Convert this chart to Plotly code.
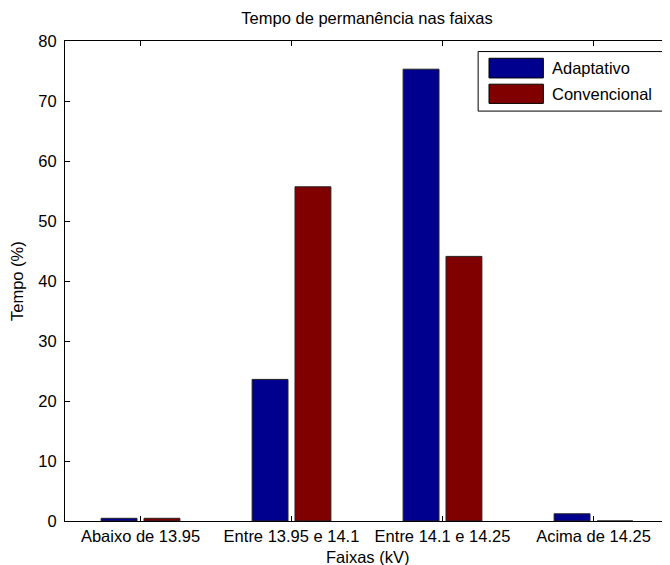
import plotly.graph_objects as go

categories = ["Abaixo de 13.95", "Entre 13.95 e 14.1", "Entre 14.1 e 14.25", "Acima de 14.25"]
adaptativo = [0.45, 23.6, 75.3, 1.2]
convencional = [0.45, 55.7, 44.1, 0.0]
series_names = ["Adaptativo", "Convencional"]
y_ticks = [0, 10, 20, 30, 40, 50, 60, 70, 80]

x_pos = list(range(1, len(categories) + 1))
BLUE = "#00008F"
RED = "#800000"
FONT = "Liberation Sans, Arial, sans-serif"
FS = 16.5

fig = go.Figure()
fig.add_trace(go.Bar(x=x_pos, y=adaptativo, name=series_names[0],
                     marker=dict(color=BLUE, line=dict(color="#222222", width=1)),
                     showlegend=False))
fig.add_trace(go.Bar(x=x_pos, y=convencional, name=series_names[1],
                     marker=dict(color=RED, line=dict(color="#222222", width=1)),
                     showlegend=False))

# custom MATLAB-style legend box
shapes = [
    dict(type="rect", xref="paper", yref="paper", x0=0.684, x1=0.992, y0=0.854, y1=0.978,
         line=dict(color="black", width=1), fillcolor="white", layer="above"),
    dict(type="rect", xref="paper", yref="paper", x0=0.702, x1=0.792, y0=0.923, y1=0.964,
         line=dict(color="black", width=1), fillcolor=BLUE, layer="above"),
    dict(type="rect", xref="paper", yref="paper", x0=0.702, x1=0.792, y0=0.870, y1=0.910,
         line=dict(color="black", width=1), fillcolor=RED, layer="above"),
]
annotations = [
    dict(text=series_names[0], xref="paper", yref="paper", x=0.803, y=0.9435,
         xanchor="left", yanchor="middle", showarrow=False,
         font=dict(family=FONT, size=FS, color="black")),
    dict(text=series_names[1], xref="paper", yref="paper", x=0.803, y=0.890,
         xanchor="left", yanchor="middle", showarrow=False,
         font=dict(family=FONT, size=FS, color="black")),
    # axis titles
    dict(text="Faixas (kV)", xref="paper", yref="paper", x=0.5, y=0,
         xanchor="center", yanchor="middle", yshift=-36, showarrow=False,
         font=dict(family=FONT, size=FS, color="black")),
    dict(text="Tempo (%)", xref="paper", yref="paper", x=0, y=0.5, textangle=-90,
         xanchor="center", yanchor="middle", xshift=-48, showarrow=False,
         font=dict(family=FONT, size=FS, color="black")),
]

# the page body adds an 8px margin, so the figure is sized to fill the rest of the window
fig.update_layout(
    width=662, height=557,
    margin=dict(l=57, r=1, t=33, b=44, autoexpand=False),
    paper_bgcolor="white", plot_bgcolor="white",
    barmode="group", bargap=0.432, bargroupgap=0.163,
    font=dict(family=FONT, size=FS, color="black"),
    title=dict(text="Tempo de permanência nas faixas", xref="paper", x=0.5, xanchor="center",
               yref="container", y=0.982, yanchor="middle",
               font=dict(family=FONT, size=FS, color="black")),
    shapes=shapes, annotations=annotations,
    xaxis=dict(range=[0.5, 4.5], tickmode="array", tickvals=x_pos, ticktext=categories,
               ticks="inside", ticklen=5, tickcolor="black", showline=True, linecolor="black",
               linewidth=1, mirror="ticks", showgrid=False, zeroline=False, automargin=False,
               tickfont=dict(family=FONT, size=FS)),
    yaxis=dict(range=[0, 80], tickmode="array", tickvals=y_ticks,
               ticks="inside", ticklen=5, tickcolor="black", showline=True, linecolor="black",
               linewidth=1, mirror="ticks", showgrid=False, zeroline=False, automargin=False,
               tickfont=dict(family=FONT, size=FS), ticklabelstandoff=4),
)

fig.write_html("out.html")
